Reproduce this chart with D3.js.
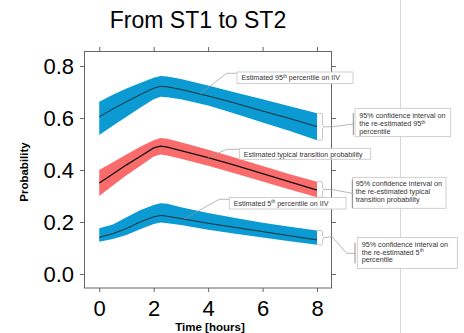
<!DOCTYPE html>
<html>
<head>
<meta charset="utf-8">
<script src="https://cdn.jsdelivr.net/npm/d3@7"></script>
<style>
  body { margin: 0; background: #fff; }
  svg { display: block; font-family: Arial, "Liberation Sans", sans-serif; }
</style>
</head>
<body>
<div id="chart"></div>
<script>
// Data
var time = [0, 0.5, 1, 1.5, 2, 2.25, 2.5, 3, 4, 5, 6, 7, 8]

// 95th percentile on IIV (upper blue band)
var p95Mid = [0.605, 0.635, 0.663, 0.690, 0.715, 0.722, 0.720, 0.710, 0.685, 0.657, 0.627, 0.598, 0.567]
var p95Lo  = [0.535, 0.570, 0.605, 0.640, 0.672, 0.682, 0.680, 0.672, 0.648, 0.617, 0.583, 0.550, 0.515]
var p95Hi  = [0.663, 0.690, 0.714, 0.735, 0.755, 0.762, 0.760, 0.750, 0.725, 0.698, 0.672, 0.645, 0.618]

// typical transition probability (red band)
var typMid = [0.350, 0.385, 0.420, 0.452, 0.485, 0.492, 0.488, 0.475, 0.448, 0.418, 0.386, 0.354, 0.323]
var typLo  = [0.300, 0.340, 0.380, 0.415, 0.452, 0.460, 0.456, 0.443, 0.416, 0.387, 0.356, 0.325, 0.295]
var typHi  = [0.400, 0.430, 0.460, 0.490, 0.515, 0.523, 0.520, 0.507, 0.478, 0.447, 0.415, 0.384, 0.355]

// 5th percentile on IIV (lower blue band)
var p5Mid = [0.141, 0.155, 0.175, 0.200, 0.220, 0.225, 0.222, 0.213, 0.195, 0.179, 0.163, 0.147, 0.131]
var p5Lo  = [0.124, 0.135, 0.150, 0.172, 0.192, 0.198, 0.195, 0.188, 0.170, 0.155, 0.140, 0.126, 0.112]
var p5Hi  = [0.176, 0.190, 0.218, 0.245, 0.265, 0.272, 0.270, 0.257, 0.235, 0.215, 0.197, 0.182, 0.167]

var xTicks = [0, 2, 4, 6, 8]
var yTicks = [0, 0.2, 0.4, 0.6, 0.8]

var title = 'From ST1 to ST2'
var xTitle = 'Time [hours]'
var yTitle = 'Probability'

// callout texts: [plain, superscript, plain]
var lineNotes = [
      ['Estimated 95', 'th', ' percentile on IIV'],
      ['Estimated typical transition probability', '', ''],
      ['Estimated 5', 'th', ' percentile on IIV']
]
var ciNotes = [
      [['95% confidence interval on', '', ''], ['the re-estimated 95', 'th', ''], ['percentile', '', '']],
      [['95% confidence interval on', '', ''], ['the re-estimated typical', '', ''], ['transition probability', '', '']],
      [['95% confidence interval on', '', ''], ['the re-estimated 5', 'th', ''], ['percentile', '', '']]
]

var svgWidth = 464
var svgHeight = 333

var svg = d3.select('#chart')
      .append('svg')
      .attr('width', svgWidth)
      .attr('height', svgHeight)

// plot frame spans 84..332 x 51..288
var x = d3.scaleLinear().domain([-0.56, 8.55]).range([84, 332])
var y = d3.scaleLinear().domain([-0.054, 0.858]).range([288, 51])

// light page divider
svg.append('line')
      .attr('x1', 400.5).attr('x2', 400.5)
      .attr('y1', 0).attr('y2', svgHeight)
      .attr('stroke', '#d6d6d6')
      .attr('stroke-width', 1)

// bands
var bands = [
      { mid: p95Mid, lo: p95Lo, hi: p95Hi, fill: '#0b9bd2', lw: 0.8 },
      { mid: typMid, lo: typLo, hi: typHi, fill: '#fa6b6b', lw: 1.3 },
      { mid: p5Mid, lo: p5Lo, hi: p5Hi, fill: '#0b9bd2', lw: 0.8 }
]

var area = d3.area()
      .x(d => x(d.t))
      .y0(d => y(d.lo))
      .y1(d => y(d.hi))

var line = d3.line()
      .x(d => x(d.t))
      .y(d => y(d.v))

bands.forEach(b => {
      var rows = time.map((t, i) => ({ t: t, lo: b.lo[i], hi: b.hi[i], v: b.mid[i] }))
      svg.append('path')
            .datum(rows)
            .attr('d', area)
            .attr('fill', b.fill)
      svg.append('path')
            .datum(rows)
            .attr('d', line)
            .attr('fill', 'none')
            .attr('stroke', '#111')
            .attr('stroke-width', b.lw)
})

// frame
svg.append('rect')
      .attr('x', 84.5).attr('y', 51.5)
      .attr('width', 247).attr('height', 236.5)
      .attr('fill', 'none')
      .attr('stroke', '#666')
      .attr('stroke-width', 1)

// axes
function styleAxis(g) {
      g.select('.domain').remove()
      g.selectAll('.tick line').attr('stroke', '#666')
      g.selectAll('.tick text')
            .attr('fill', '#000')
            .style('font-size', '22px')
            .style('font-family', 'Arial, "Liberation Sans", sans-serif')
}

svg.append('g')
      .attr('transform', 'translate(84,0)')
      .call(d3.axisLeft(y).tickValues(yTicks).tickSize(4).tickPadding(6).tickFormat(d3.format('.1f')))
      .call(styleAxis)

svg.append('g')
      .attr('transform', 'translate(0,288)')
      .call(d3.axisBottom(x).tickValues(xTicks).tickSize(4).tickPadding(8).tickFormat(d3.format('d')))
      .call(styleAxis)

svg.append('g')
      .attr('transform', 'translate(0,51)')
      .call(d3.axisTop(x).tickValues(xTicks).tickSize(4).tickFormat(''))
      .call(styleAxis)

svg.append('g')
      .attr('transform', 'translate(332,0)')
      .call(d3.axisRight(y).tickValues(yTicks).tickSize(4).tickFormat(''))
      .call(styleAxis)

// titles
svg.append('text')
      .attr('x', 198).attr('y', 28)
      .attr('text-anchor', 'middle')
      .style('font-size', '23px')
      .text(title)

svg.append('text')
      .attr('x', 210).attr('y', 330.5)
      .attr('text-anchor', 'middle')
      .style('font-size', '11.5px')
      .style('font-weight', 'bold')
      .text(xTitle)

svg.append('text')
      .attr('transform', 'translate(27.5,172) rotate(-90)')
      .attr('text-anchor', 'middle')
      .style('font-size', '11.5px')
      .style('font-weight', 'bold')
      .text(yTitle)

// helper: text with optional superscript
function noteText(g, parts, tx, ty, fs) {
      var t = g.append('text')
            .attr('x', tx).attr('y', ty)
            .attr('fill', '#333')
            .style('font-size', fs + 'px')
      t.append('tspan').text(parts[0])
      if (parts[1]) {
            t.append('tspan').attr('dy', -2.3).style('font-size', (fs * 0.66) + 'px').text(parts[1])
            t.append('tspan').attr('dy', 2.3).text(parts[2])
      }
}

// callouts on the lines
var leaderColor = '#9a9a9a'
var lineCallouts = [
      { at: 3.7, src: p95Mid, elbow: [226.7, 73.3], box: [237, 72, 116, 11.5] },
      { at: 4.0, src: typMid, elbow: [226.7, 149.3], box: [239.3, 148.3, 131.4, 11] },
      { at: 3.1, src: p5Mid, elbow: [219.3, 199.3], box: [229.3, 197.5, 116.7, 11.5] }
]

lineCallouts.forEach((c, i) => {
      var v = d3.scaleLinear().domain(time).range(c.src)(c.at)
      svg.append('path')
            .attr('d', `M${x(c.at)},${y(v)}L${c.elbow[0]},${c.elbow[1]}H${c.box[0]}`)
            .attr('fill', 'none')
            .attr('stroke', leaderColor)
            .attr('stroke-width', 0.7)
      svg.append('rect')
            .attr('x', c.box[0]).attr('y', c.box[1])
            .attr('width', c.box[2]).attr('height', c.box[3])
            .attr('fill', '#fff')
            .attr('stroke', '#c4c4c4')
            .attr('stroke-width', 0.8)
      noteText(svg, lineNotes[i], c.box[0] + 4.5, c.box[1] + 8.2, 7.1)
})

// brackets at t = 8 and CI callouts
var ciCallouts = [
      { band: bands[0], path: [[332, null], [353.3, 124]], bar: [353.3, 113, 135], box: [355, 108.3, 95.7, 28.4], tx: 359.3, ty: 118 },
      { band: bands[1], path: [[332, null], [352.3, 193.3]], bar: [352.3, 180, 208], box: [352.7, 177.3, 93.3, 31], tx: 355.7, ty: 186 },
      { band: bands[2], path: [[332, 236.7], [346.7, 253.3], [355, 253.3]], bar: [355, 242.7, 263.3], box: [357.3, 237.5, 100, 31], tx: 361.7, ty: 246.7 }
]

ciCallouts.forEach((c, i) => {
      var last = time.length - 1
      var top = y(c.band.hi[last])
      var bot = y(c.band.lo[last])
      var mid = (top + bot) / 2
      var x0 = x(time[last]) + 0.5
      var x1 = x0 + 5
      var br = `M${x0},${top}H${x1 - 1.5}Q${x1},${top} ${x1},${top + 1.5}V${mid - 1.5}L${x1 + 2},${mid}L${x1},${mid + 1.5}V${bot - 1.5}Q${x1},${bot} ${x1 - 1.5},${bot}H${x0}`
      svg.append('path')
            .attr('d', br)
            .attr('fill', 'none')
            .attr('stroke', '#b8b8b8')
            .attr('stroke-width', 0.8)

      var d = `M${x1 + 2},${mid}`
      c.path.forEach(p => { d += `L${p[0]},${p[1] === null ? mid : p[1]}` })
      svg.append('path')
            .attr('d', d)
            .attr('fill', 'none')
            .attr('stroke', leaderColor)
            .attr('stroke-width', 0.7)

      svg.append('rect')
            .attr('x', c.box[0]).attr('y', c.box[1])
            .attr('width', c.box[2]).attr('height', c.box[3])
            .attr('fill', '#fff')
            .attr('stroke', '#c4c4c4')
            .attr('stroke-width', 0.8)

      svg.append('line')
            .attr('x1', c.bar[0]).attr('x2', c.bar[0])
            .attr('y1', c.bar[1]).attr('y2', c.bar[2])
            .attr('stroke', '#777')
            .attr('stroke-width', 0.8)

      ciNotes[i].forEach((parts, j) => {
            noteText(svg, parts, c.tx, c.ty + j * 7.8, 7.2)
      })
})
</script>
</body>
</html>
